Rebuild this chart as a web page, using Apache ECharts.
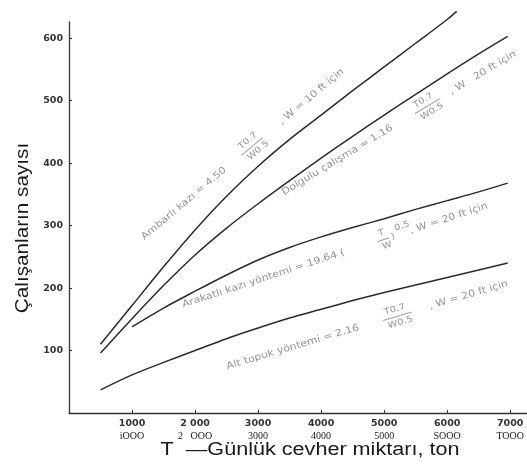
<!DOCTYPE html>
<html>
<head>
<meta charset="utf-8">
<script src="https://cdn.jsdelivr.net/npm/echarts@6/dist/echarts.min.js"></script>
<style>
  html, body { margin: 0; padding: 0; background: #fff; }
  #chart { width: 527px; height: 464px; }
</style>
</head>
<body>
<div id="chart"></div>
<script>
// Daily ore tonnage (T) vs. number of workers for four mining methods
const tonsAmbar = [500, 1000, 1500, 2000, 2500, 3000, 3500, 4000, 4500, 5000, 5500, 6000, 6150];
const workersAmbar = [110, 172, 234, 293, 347, 395, 438, 477, 516, 554, 592, 630, 643];

const tonsDolgu = [500, 1000, 1500, 2000, 2500, 3000, 3500, 4000, 4500, 5000, 5500, 6000, 6500, 6960];
const workersDolgu = [96, 151, 204, 253, 296, 335, 372, 408, 443, 477, 510, 543, 575, 603];

const tonsArakat = [1000, 1500, 2000, 2500, 3000, 3500, 4000, 4500, 5000, 5500, 6000, 6500, 6960];
const workersArakat = [138, 168, 195, 221, 245, 265, 282, 297, 311, 326, 340, 354, 368];

const tonsTopuk = [500, 1000, 1500, 2000, 2500, 3000, 3500, 4000, 4500, 5000, 5500, 6000, 6500, 6960];
const workersTopuk = [37, 61, 81, 100, 119, 136, 152, 166, 180, 193, 205, 217, 229, 240];

const xTickValues = [1000, 2000, 3000, 4000, 5000, 6000, 7000];
const xTicksTop = ['1000', '2 000', '3000', '4000', '5000', '6000', '7000'];
const xTicksBottom = ['iOOO', '2   OOO', '3000', '4000', '5000', 'SOOO', 'TOOO'];
const yTickValues = [100, 200, 300, 400, 500, 600];
const yTicks = ['100', '200', '300', '400', '500', '600'];

const xTitle = 'T  —Günlük cevher miktarı, ton';
const yTitle = 'Çalışanların sayısı';

const zip = (xs, ys) => xs.map((x, i) => [x, ys[i]]);

const chart = echarts.init(document.getElementById('chart'), null, { renderer: 'canvas' });

const lineStyle = { color: '#2b2b2b', width: 1.5 };
const curve = (name, xs, ys) => ({
  name, type: 'line', data: zip(xs, ys), smooth: 0.3, clip: false,
  symbol: 'none', lineStyle, silent: true
});

chart.setOption({
  animation: false,
  backgroundColor: '#ffffff',
  grid: { left: 69, right: 0, top: 22, bottom: 51 },
  xAxis: {
    type: 'value', min: 0, max: 7260, interval: 1000,
    axisLine: { show: true, lineStyle: { color: '#333', width: 1.3 } },
    axisTick: { show: true, inside: true, length: 3, lineStyle: { color: '#333' } },
    splitLine: { show: false },
    axisLabel: {
      showMaxLabel: false, margin: 4, lineHeight: 13,
      formatter: v => {
        const i = xTickValues.indexOf(v);
        if (i < 0) return '';
        return '{a|' + xTicksTop[i] + '}\n{b|' + xTicksBottom[i] + '}';
      },
      rich: {
        a: { fontFamily: 'DejaVu Sans', fontSize: 9.5, color: '#333', fontWeight: 'bold', lineHeight: 13 },
        b: { fontFamily: 'Liberation Serif', fontSize: 10, color: '#222', lineHeight: 13 }
      }
    }
  },
  yAxis: {
    type: 'value', min: 0, max: 626, interval: 100,
    axisLine: { show: true, lineStyle: { color: '#333', width: 1.3 } },
    axisTick: { show: true, inside: true, length: 3, lineStyle: { color: '#333' } },
    splitLine: { show: false },
    axisLabel: {
      showMaxLabel: false, margin: 6,
      fontFamily: 'DejaVu Sans', fontSize: 9.5, fontWeight: 'bold', color: '#333',
      formatter: v => {
        const i = yTickValues.indexOf(v);
        return i < 0 ? '' : yTicks[i];
      }
    }
  },
  series: [
    curve('Ambarlı kazı', tonsAmbar, workersAmbar),
    curve('Dolgulu çalışma', tonsDolgu, workersDolgu),
    curve('Arakatlı kazı yöntemi', tonsArakat, workersArakat),
    curve('Alt topuk yöntemi', tonsTopuk, workersTopuk)
  ]
});

// Formula labels written along each curve
const labelColor = '#949494';
const labelFont = '9.5px "DejaVu Sans"';
const smallFont = '8.5px "DejaVu Sans"';
function txt(x, y, s, font) {
  return {
    type: 'text', x, y,
    style: { text: s, font: font || labelFont, fill: labelColor, align: 'left', verticalAlign: 'middle' }
  };
}
function fraction(x, num, den, w) {
  return [
    txt(x + 3, -7, num, smallFont),
    { type: 'line', shape: { x1: x, y1: 0, x2: x + w, y2: 0 }, style: { stroke: '#a0a0a0', lineWidth: 1 } },
    txt(x + 3, 7, den, smallFont)
  ];
}
function formulaLabel(opt) {
  const p = chart.convertToPixel({ gridIndex: 0 }, opt.anchor);
  const children = [txt(0, 0, opt.head)];
  children.push(...fraction(opt.fracX, opt.num, opt.den, opt.fracW));
  (opt.extra || []).forEach(e => children.push(txt(e[0], e[1], e[2], smallFont)));
  children.push(txt(opt.tailX, 0, opt.tail));
  return {
    type: 'group', x: p[0], y: p[1], rotation: opt.angle * Math.PI / 180,
    scaleX: 1.15, children, silent: true
  };
}

chart.setOption({
  graphic: [
    formulaLabel({ anchor: [1170, 280], angle: 40, head: 'Ambarlı kazı = 4.50',
      fracX: 112, num: 'T0.7', den: 'W0.5', fracW: 24, tailX: 156, tail: ', W = 10 ft için' }),
    formulaLabel({ anchor: [3390, 352], angle: 31, head: 'Dolgulu çalışma = 1.16',
      fracX: 134, num: 'T0.7', den: 'W0.5', fracW: 26, tailX: 170, tail: ', W   20 ft için' }),
    formulaLabel({ anchor: [1800, 173], angle: 18, head: 'Arakatlı kazı yöntemi = 19.64 (',
      fracX: 178, num: 'T', den: 'W', fracW: 11, extra: [[191, 0, ')'], [196, -7, '0.5']],
      tailX: 208, tail: ', W = 20 ft için' }),
    formulaLabel({ anchor: [2500, 74], angle: 16.5, head: 'Alt topuk yöntemi = 2.16',
      fracX: 142, num: 'T0.7', den: 'W0.5', fracW: 26, tailX: 184, tail: ', W = 20 ft için' }),
    {
      type: 'text', x: 310, y: 450, scaleX: 1.2,
      style: { text: xTitle, font: '18px "Liberation Sans"', fill: '#1a1a1a', align: 'center', verticalAlign: 'middle' }
    },
    {
      type: 'text', x: 23, y: 228, rotation: Math.PI / 2, scaleX: 1.15,
      style: { text: yTitle, font: '18px "Liberation Sans"', fill: '#1a1a1a', align: 'center', verticalAlign: 'middle' }
    }
  ]
});
</script>
</body>
</html>
